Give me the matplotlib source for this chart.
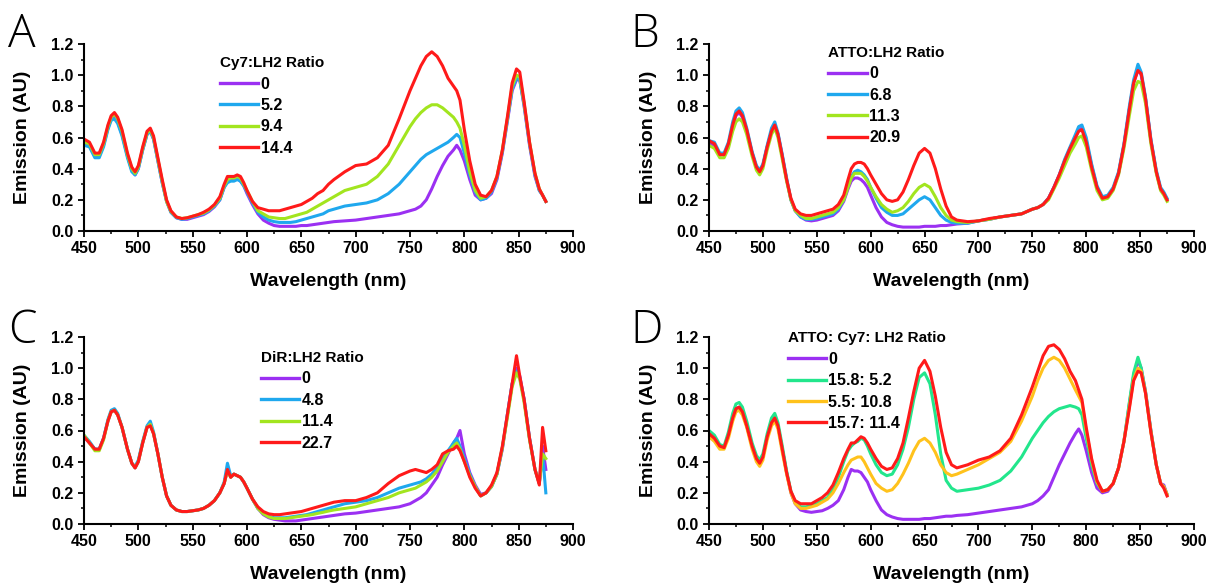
import matplotlib
matplotlib.use('Agg')
import matplotlib.pyplot as plt
from matplotlib.ticker import MultipleLocator, FormatStrFormatter

plt.rcParams['font.family'] = ['Liberation Sans', 'DejaVu Sans']
plt.rcParams['font.weight'] = 'bold'

# Shared wavelength grid (nm)
wavelength = [450, 455, 460, 464, 468, 472, 475, 478, 481, 485,
              490, 494, 497, 500, 504, 508, 511, 514, 518, 522,
              526, 530, 535, 540, 545, 550, 555, 560, 565, 570,
              575, 579, 582, 585, 588, 591, 594, 597, 600, 605,
              610, 615, 620, 625, 630, 635, 640, 645, 650, 655,
              660, 665, 670, 675, 680, 690, 700, 710, 720, 730,
              740, 750, 755, 760, 765, 770, 775, 780, 785, 790,
              793, 796, 800, 805, 810, 815, 820, 825, 830, 835,
              840, 844, 848, 851, 855, 860, 865, 869, 872, 875]

# ---------------- Panel A: Cy7:LH2 ----------------
A_labels = ['0', '5.2', '9.4', '14.4']
A_0 = [0.56, 0.55, 0.48, 0.48, 0.55, 0.66, 0.72, 0.73, 0.70, 0.62,
       0.48, 0.39, 0.36, 0.40, 0.52, 0.62, 0.64, 0.59, 0.45, 0.31,
       0.19, 0.12, 0.085, 0.075, 0.075, 0.085, 0.095, 0.105, 0.125, 0.155,
       0.20, 0.28, 0.32, 0.33, 0.33, 0.34, 0.32, 0.29, 0.24, 0.17,
       0.11, 0.07, 0.05, 0.035, 0.03, 0.03, 0.03, 0.03, 0.035, 0.035,
       0.04, 0.045, 0.05, 0.055, 0.06, 0.065, 0.07, 0.08, 0.09, 0.10,
       0.11, 0.13, 0.14, 0.16, 0.20, 0.27, 0.35, 0.42, 0.48, 0.52,
       0.55, 0.52, 0.45, 0.33, 0.23, 0.20, 0.21, 0.24, 0.33, 0.50,
       0.72, 0.90, 0.97, 0.97, 0.80, 0.55, 0.35, 0.26, 0.23, 0.19]
A_52 = [0.55, 0.54, 0.47, 0.47, 0.54, 0.65, 0.71, 0.72, 0.69, 0.61,
        0.47, 0.38, 0.36, 0.40, 0.52, 0.62, 0.64, 0.59, 0.45, 0.31,
        0.19, 0.12, 0.085, 0.075, 0.08, 0.09, 0.10, 0.11, 0.13, 0.16,
        0.20, 0.28, 0.31, 0.32, 0.32, 0.33, 0.32, 0.29, 0.25, 0.18,
        0.12, 0.09, 0.07, 0.06, 0.055, 0.055, 0.055, 0.06, 0.07, 0.08,
        0.09, 0.10, 0.11, 0.13, 0.14, 0.16, 0.17, 0.18, 0.20, 0.24,
        0.30, 0.38, 0.42, 0.46, 0.49, 0.51, 0.53, 0.55, 0.57, 0.60,
        0.62, 0.60, 0.50, 0.36, 0.25, 0.20, 0.21, 0.25, 0.34, 0.51,
        0.73, 0.91, 0.98, 0.97, 0.81, 0.56, 0.36, 0.26, 0.23, 0.19]
A_94 = [0.57, 0.56, 0.49, 0.49, 0.56, 0.67, 0.73, 0.75, 0.72, 0.64,
        0.49, 0.40, 0.37, 0.41, 0.53, 0.63, 0.65, 0.60, 0.46, 0.32,
        0.19, 0.125, 0.09, 0.08, 0.085, 0.095, 0.105, 0.115, 0.135, 0.165,
        0.21, 0.29, 0.33, 0.34, 0.34, 0.35, 0.34, 0.30, 0.26, 0.19,
        0.13, 0.11, 0.09, 0.085, 0.08, 0.08, 0.09, 0.10, 0.11, 0.12,
        0.14, 0.16, 0.18, 0.20, 0.22, 0.26, 0.28, 0.30, 0.35, 0.43,
        0.55, 0.67, 0.72, 0.76, 0.79, 0.81, 0.81, 0.79, 0.76, 0.73,
        0.70, 0.66, 0.55, 0.38, 0.26, 0.21, 0.22, 0.26, 0.35, 0.52,
        0.74, 0.93, 1.00, 0.99, 0.82, 0.57, 0.37, 0.27, 0.23, 0.19]
A_144 = [0.59, 0.57, 0.50, 0.50, 0.57, 0.68, 0.74, 0.76, 0.73, 0.65,
         0.50, 0.41, 0.38, 0.42, 0.54, 0.64, 0.66, 0.61, 0.47, 0.33,
         0.20, 0.13, 0.09, 0.08, 0.085, 0.095, 0.105, 0.12, 0.14, 0.17,
         0.22, 0.30, 0.35, 0.35, 0.35, 0.36, 0.35, 0.31, 0.26, 0.19,
         0.15, 0.14, 0.13, 0.13, 0.13, 0.14, 0.15, 0.16, 0.17, 0.19,
         0.21, 0.24, 0.26, 0.30, 0.33, 0.38, 0.42, 0.43, 0.47, 0.55,
         0.72, 0.90, 0.98, 1.06, 1.12, 1.15, 1.12, 1.06, 0.98, 0.93,
         0.90, 0.84, 0.65, 0.45, 0.30, 0.23, 0.22, 0.26, 0.35, 0.52,
         0.75, 0.95, 1.04, 1.02, 0.83, 0.57, 0.37, 0.27, 0.23, 0.19]

# ---------------- Panel B: ATTO:LH2 ----------------
B_labels = ['0', '6.8', '11.3', '20.9']
B_0 = [0.56, 0.55, 0.49, 0.49, 0.55, 0.67, 0.74, 0.76, 0.73, 0.64,
       0.50, 0.41, 0.38, 0.42, 0.54, 0.64, 0.68, 0.62, 0.48, 0.33,
       0.20, 0.13, 0.09, 0.07, 0.065, 0.07, 0.08, 0.09, 0.10, 0.13,
       0.19, 0.27, 0.32, 0.34, 0.34, 0.33, 0.31, 0.28, 0.23, 0.15,
       0.09, 0.055, 0.04, 0.03, 0.025, 0.025, 0.025, 0.025, 0.03, 0.03,
       0.03, 0.035, 0.035, 0.04, 0.045, 0.05, 0.065, 0.075, 0.09, 0.10,
       0.11, 0.14, 0.15, 0.17, 0.21, 0.28, 0.36, 0.45, 0.53, 0.60,
       0.65, 0.66, 0.58, 0.42, 0.28, 0.21, 0.22, 0.27, 0.37, 0.55,
       0.78, 0.95, 1.04, 1.00, 0.85, 0.58, 0.38, 0.27, 0.24, 0.20]
B_68 = [0.58, 0.57, 0.50, 0.50, 0.57, 0.70, 0.77, 0.79, 0.76, 0.66,
        0.51, 0.42, 0.39, 0.43, 0.55, 0.66, 0.70, 0.63, 0.49, 0.34,
        0.20, 0.13, 0.09, 0.075, 0.075, 0.08, 0.09, 0.10, 0.11, 0.14,
        0.20, 0.29, 0.35, 0.38, 0.39, 0.38, 0.36, 0.33, 0.28, 0.21,
        0.15, 0.12, 0.10, 0.10, 0.11, 0.14, 0.17, 0.20, 0.22, 0.20,
        0.15, 0.10, 0.07, 0.055, 0.05, 0.05, 0.065, 0.075, 0.09, 0.10,
        0.11, 0.14, 0.15, 0.17, 0.21, 0.28, 0.36, 0.46, 0.54, 0.62,
        0.67, 0.68, 0.60, 0.43, 0.29, 0.22, 0.23, 0.28, 0.38, 0.56,
        0.80, 0.97, 1.07, 1.02, 0.86, 0.59, 0.39, 0.28, 0.25, 0.21]
B_113 = [0.55, 0.53, 0.47, 0.47, 0.53, 0.64, 0.70, 0.72, 0.70, 0.62,
         0.48, 0.39, 0.36, 0.40, 0.52, 0.62, 0.66, 0.60, 0.46, 0.32,
         0.20, 0.13, 0.10, 0.08, 0.08, 0.09, 0.10, 0.11, 0.12, 0.15,
         0.20, 0.28, 0.34, 0.37, 0.37, 0.37, 0.35, 0.32, 0.28, 0.22,
         0.17, 0.14, 0.12, 0.13, 0.15, 0.19, 0.24, 0.28, 0.30, 0.28,
         0.22, 0.15, 0.10, 0.07, 0.06, 0.055, 0.065, 0.075, 0.09, 0.10,
         0.11, 0.14, 0.15, 0.17, 0.20, 0.27, 0.34, 0.42, 0.50, 0.56,
         0.60, 0.61, 0.54, 0.39, 0.26, 0.20, 0.21, 0.26, 0.36, 0.53,
         0.74, 0.90, 0.96, 0.95, 0.82, 0.56, 0.37, 0.26, 0.23, 0.19]
B_209 = [0.58, 0.56, 0.49, 0.49, 0.56, 0.68, 0.75, 0.77, 0.74, 0.65,
         0.50, 0.41, 0.38, 0.42, 0.54, 0.64, 0.68, 0.62, 0.48, 0.33,
         0.21, 0.14, 0.11, 0.10, 0.10, 0.11, 0.12, 0.13, 0.14, 0.17,
         0.23, 0.33, 0.40, 0.43, 0.44, 0.44, 0.43, 0.40, 0.36, 0.30,
         0.24, 0.20, 0.19, 0.20, 0.25, 0.33, 0.42, 0.50, 0.53, 0.50,
         0.40, 0.27, 0.16, 0.09, 0.07, 0.06, 0.065, 0.08, 0.09, 0.10,
         0.11, 0.14, 0.15, 0.17, 0.21, 0.28, 0.36, 0.45, 0.53, 0.60,
         0.64, 0.65, 0.57, 0.41, 0.28, 0.21, 0.22, 0.27, 0.37, 0.55,
         0.78, 0.95, 1.03, 1.01, 0.85, 0.58, 0.38, 0.27, 0.24, 0.20]

# ---------------- Panel C: DiR:LH2 ----------------
C_labels = ['0', '4.8', '11.4', '22.7']
C_0 = [0.56, 0.52, 0.48, 0.48, 0.55, 0.66, 0.72, 0.73, 0.70, 0.62,
       0.48, 0.39, 0.36, 0.40, 0.52, 0.62, 0.64, 0.58, 0.45, 0.30,
       0.18, 0.12, 0.09, 0.08, 0.08, 0.085, 0.09, 0.10, 0.12, 0.15,
       0.20, 0.26, 0.35, 0.30, 0.32, 0.31, 0.30, 0.27, 0.23, 0.16,
       0.10, 0.06, 0.04, 0.03, 0.025, 0.02, 0.02, 0.02, 0.025, 0.03,
       0.035, 0.04, 0.045, 0.05, 0.055, 0.065, 0.07, 0.08, 0.09, 0.10,
       0.11, 0.13, 0.15, 0.17, 0.20, 0.25, 0.30, 0.38, 0.45, 0.52,
       0.55, 0.60, 0.45, 0.33, 0.25, 0.19, 0.20, 0.24, 0.32, 0.48,
       0.72, 0.90, 1.00, 0.95, 0.80, 0.55, 0.35, 0.26, 0.50, 0.35]
C_48 = [0.57, 0.53, 0.48, 0.48, 0.55, 0.67, 0.73, 0.74, 0.71, 0.62,
        0.48, 0.39, 0.37, 0.41, 0.53, 0.63, 0.66, 0.59, 0.45, 0.30,
        0.18, 0.12, 0.09, 0.08, 0.08, 0.085, 0.09, 0.10, 0.12, 0.15,
        0.20, 0.27, 0.39, 0.31, 0.32, 0.31, 0.30, 0.27, 0.23, 0.16,
        0.10, 0.07, 0.05, 0.04, 0.04, 0.04, 0.045, 0.05, 0.055, 0.06,
        0.07, 0.08, 0.09, 0.10, 0.11, 0.13, 0.14, 0.15, 0.17, 0.20,
        0.23, 0.25, 0.26, 0.27, 0.29, 0.32, 0.36, 0.42, 0.47, 0.52,
        0.55, 0.50, 0.42, 0.32, 0.24, 0.18, 0.20, 0.24, 0.32, 0.49,
        0.72, 0.90, 0.98, 0.94, 0.80, 0.55, 0.35, 0.26, 0.45, 0.20]
C_114 = [0.57, 0.52, 0.47, 0.47, 0.54, 0.66, 0.72, 0.73, 0.70, 0.62,
         0.48, 0.39, 0.36, 0.40, 0.52, 0.62, 0.64, 0.58, 0.45, 0.30,
         0.18, 0.12, 0.09, 0.08, 0.08, 0.085, 0.09, 0.10, 0.12, 0.15,
         0.20, 0.26, 0.34, 0.30, 0.32, 0.31, 0.30, 0.27, 0.23, 0.16,
         0.10, 0.065, 0.045, 0.035, 0.035, 0.035, 0.04, 0.045, 0.05, 0.055,
         0.06, 0.068, 0.075, 0.083, 0.09, 0.10, 0.11, 0.13, 0.15, 0.17,
         0.20, 0.22, 0.23, 0.25, 0.27, 0.30, 0.34, 0.40, 0.46, 0.50,
         0.52, 0.48, 0.40, 0.31, 0.24, 0.18, 0.20, 0.24, 0.32, 0.49,
         0.70, 0.88, 0.97, 0.93, 0.78, 0.54, 0.35, 0.26, 0.45, 0.42]
C_227 = [0.56, 0.52, 0.48, 0.48, 0.55, 0.66, 0.72, 0.73, 0.70, 0.62,
         0.48, 0.39, 0.36, 0.40, 0.52, 0.62, 0.63, 0.58, 0.45, 0.30,
         0.18, 0.12, 0.09, 0.08, 0.08, 0.085, 0.09, 0.10, 0.12, 0.15,
         0.20, 0.26, 0.35, 0.30, 0.32, 0.31, 0.30, 0.27, 0.23, 0.16,
         0.11, 0.08, 0.065, 0.06, 0.06, 0.065, 0.07, 0.075, 0.08, 0.09,
         0.10, 0.11, 0.12, 0.13, 0.14, 0.15, 0.15, 0.17, 0.20, 0.26,
         0.31, 0.34, 0.35, 0.34, 0.33, 0.35, 0.38, 0.45, 0.47, 0.48,
         0.50, 0.47, 0.40, 0.30, 0.23, 0.18, 0.20, 0.25, 0.33, 0.50,
         0.72, 0.90, 1.08, 0.95, 0.80, 0.55, 0.35, 0.25, 0.62, 0.47]

# ---------------- Panel D: ATTO:Cy7:LH2 ----------------
D_labels = ['0', '15.8: 5.2', '5.5: 10.8', '15.7: 11.4']
D_0 = [0.58, 0.55, 0.50, 0.49, 0.57, 0.68, 0.74, 0.75, 0.72, 0.63,
       0.50, 0.42, 0.39, 0.43, 0.56, 0.65, 0.68, 0.63, 0.48, 0.33,
       0.20, 0.13, 0.09, 0.08, 0.075, 0.08, 0.085, 0.10, 0.12, 0.15,
       0.22, 0.30, 0.35, 0.34, 0.34, 0.33, 0.30, 0.27, 0.22, 0.15,
       0.09, 0.06, 0.045, 0.035, 0.03, 0.03, 0.03, 0.03, 0.035, 0.035,
       0.04, 0.045, 0.05, 0.05, 0.055, 0.06, 0.07, 0.08, 0.09, 0.10,
       0.11, 0.13, 0.15, 0.18, 0.22, 0.30, 0.38, 0.45, 0.52, 0.58,
       0.61, 0.57, 0.47, 0.33, 0.23, 0.20, 0.21, 0.26, 0.36, 0.53,
       0.77, 0.95, 1.05, 1.00, 0.85, 0.60, 0.38, 0.26, 0.25, 0.19]
D_158_52 = [0.60, 0.57, 0.51, 0.50, 0.59, 0.71, 0.77, 0.78, 0.75, 0.66,
            0.52, 0.44, 0.41, 0.45, 0.58, 0.68, 0.71, 0.65, 0.50, 0.34,
            0.21, 0.14, 0.11, 0.11, 0.12, 0.13, 0.15, 0.17, 0.22, 0.30,
            0.40, 0.47, 0.50, 0.52, 0.53, 0.55, 0.54, 0.50, 0.45, 0.38,
            0.33, 0.31, 0.32, 0.38, 0.48, 0.62, 0.80, 0.94, 0.97, 0.90,
            0.70, 0.45, 0.28, 0.23, 0.21, 0.22, 0.23, 0.25, 0.28, 0.34,
            0.43, 0.55, 0.60, 0.65, 0.69, 0.72, 0.74, 0.75, 0.76, 0.75,
            0.74, 0.70, 0.55, 0.38, 0.26, 0.21, 0.22, 0.26, 0.36, 0.53,
            0.78, 0.97, 1.07, 1.00, 0.85, 0.60, 0.38, 0.26, 0.24, 0.19]
D_55_108 = [0.56, 0.53, 0.48, 0.48, 0.55, 0.66, 0.72, 0.73, 0.70, 0.62,
            0.48, 0.40, 0.37, 0.41, 0.54, 0.63, 0.66, 0.61, 0.46, 0.32,
            0.20, 0.13, 0.10, 0.10, 0.11, 0.12, 0.14, 0.16, 0.20, 0.26,
            0.33, 0.38, 0.41, 0.42, 0.43, 0.43, 0.40, 0.36, 0.32, 0.26,
            0.23, 0.21, 0.22, 0.26, 0.32, 0.39, 0.47, 0.53, 0.55, 0.52,
            0.46, 0.38, 0.33, 0.31, 0.32, 0.35, 0.38, 0.42, 0.46, 0.53,
            0.66, 0.82, 0.92, 1.00, 1.05, 1.07, 1.05, 1.00, 0.93, 0.86,
            0.82, 0.78, 0.60, 0.41, 0.27, 0.21, 0.22, 0.26, 0.36, 0.53,
            0.75, 0.93, 1.00, 0.98, 0.84, 0.59, 0.38, 0.26, 0.24, 0.19]
D_157_114 = [0.58, 0.55, 0.50, 0.49, 0.57, 0.68, 0.74, 0.75, 0.72, 0.63,
             0.50, 0.42, 0.39, 0.43, 0.56, 0.65, 0.68, 0.63, 0.48, 0.33,
             0.21, 0.15, 0.13, 0.13, 0.13, 0.15, 0.17, 0.20, 0.25, 0.33,
             0.42, 0.48, 0.52, 0.52, 0.54, 0.56, 0.55, 0.52, 0.48, 0.42,
             0.37, 0.35, 0.36, 0.42, 0.52, 0.68, 0.85, 1.00, 1.05, 0.98,
             0.82, 0.62, 0.46, 0.38, 0.36, 0.38, 0.41, 0.43, 0.47, 0.55,
             0.70, 0.88, 0.98, 1.08, 1.14, 1.15, 1.12, 1.06, 0.98, 0.92,
             0.86, 0.80, 0.62, 0.42, 0.28, 0.21, 0.22, 0.26, 0.36, 0.53,
             0.74, 0.92, 0.98, 0.97, 0.84, 0.59, 0.38, 0.26, 0.23, 0.18]

PURPLE = '#9B30F2'
BLUE = '#1FA8EE'
LIME = '#A2E51F'
RED = '#FF1A1A'
SPRING = '#22E68C'
GOLD = '#FFC21C'

W, H = 1212, 586
panels = [
    dict(letter='A', rect=[84 / W, 1 - 231 / H, 489 / W, 187 / H],
         title='Cy7:LH2 Ratio', labels=A_labels, series=[A_0, A_52, A_94, A_144],
         colors=[PURPLE, BLUE, LIME, RED], leg=(0.278, 0.935), lpos=(8 / W, 1 - 47 / H)),
    dict(letter='B', rect=[709 / W, 1 - 231 / H, 485 / W, 187 / H],
         title='ATTO:LH2 Ratio', labels=B_labels, series=[B_0, B_68, B_113, B_209],
         colors=[PURPLE, BLUE, LIME, RED], leg=(0.246, 0.99), lpos=(630 / W, 1 - 47 / H)),
    dict(letter='C', rect=[84 / W, 1 - 524 / H, 489 / W, 187 / H],
         title='DiR:LH2 Ratio', labels=C_labels, series=[C_0, C_48, C_114, C_227],
         colors=[PURPLE, BLUE, LIME, RED], leg=(0.362, 0.925), lpos=(8 / W, 1 - 343 / H)),
    dict(letter='D', rect=[709 / W, 1 - 524 / H, 485 / W, 187 / H],
         title='ATTO: Cy7: LH2 Ratio', labels=D_labels, series=[D_0, D_158_52, D_55_108, D_157_114],
         colors=[PURPLE, SPRING, GOLD, RED], leg=(0.162, 1.03), lpos=(630 / W, 1 - 343 / H)),
]

fig = plt.figure(figsize=(W / 100, H / 100), dpi=100)

for p in panels:
    ax = fig.add_axes(p['rect'])
    for vals, col, lab in zip(p['series'], p['colors'], p['labels']):
        ax.plot(wavelength, vals, color=col, lw=2.2, label=lab)
    ax.set_xlim(450, 900)
    ax.set_ylim(0, 1.2)
    ax.xaxis.set_major_locator(MultipleLocator(50))
    ax.xaxis.set_minor_locator(MultipleLocator(25))
    ax.yaxis.set_major_locator(MultipleLocator(0.2))
    ax.yaxis.set_minor_locator(MultipleLocator(0.1))
    ax.yaxis.set_major_formatter(FormatStrFormatter('%.1f'))
    for s in ('top', 'right'):
        ax.spines[s].set_visible(False)
    for s in ('left', 'bottom'):
        ax.spines[s].set_linewidth(1.5)
    ax.tick_params(which='major', direction='out', length=4.5, width=1.3,
                   labelsize=11.5, pad=3)
    ax.tick_params(which='minor', direction='out', length=2.5, width=1.1)
    for t in ax.get_xticklabels() + ax.get_yticklabels():
        t.set_fontweight('bold')
    ax.set_xlabel('Wavelength (nm)', fontsize=14, fontweight='bold')
    ax.set_ylabel('Emission (AU)', fontsize=14, fontweight='bold')
    ax.xaxis.set_label_coords(0.5, -0.225)
    ax.yaxis.set_label_coords(-0.108, 0.5)
    leg = ax.legend(loc='upper left', bbox_to_anchor=p['leg'], frameon=False,
                    title=p['title'], fontsize=11.5, title_fontsize=11,
                    handlelength=2.4, handletextpad=0.15, labelspacing=0.4,
                    borderpad=0, borderaxespad=0, alignment='left')
    leg.get_title().set_fontweight('bold')
    for t in leg.get_texts():
        t.set_fontweight('bold')
    for ln in leg.get_lines():
        ln.set_linewidth(2.4)
    fig.text(p['lpos'][0], p['lpos'][1], p['letter'], fontsize=33,
             family=['Open Sans', 'DejaVu Sans'], fontweight='light',
             va='baseline', ha='left')

fig.savefig('out.png', dpi=100)
